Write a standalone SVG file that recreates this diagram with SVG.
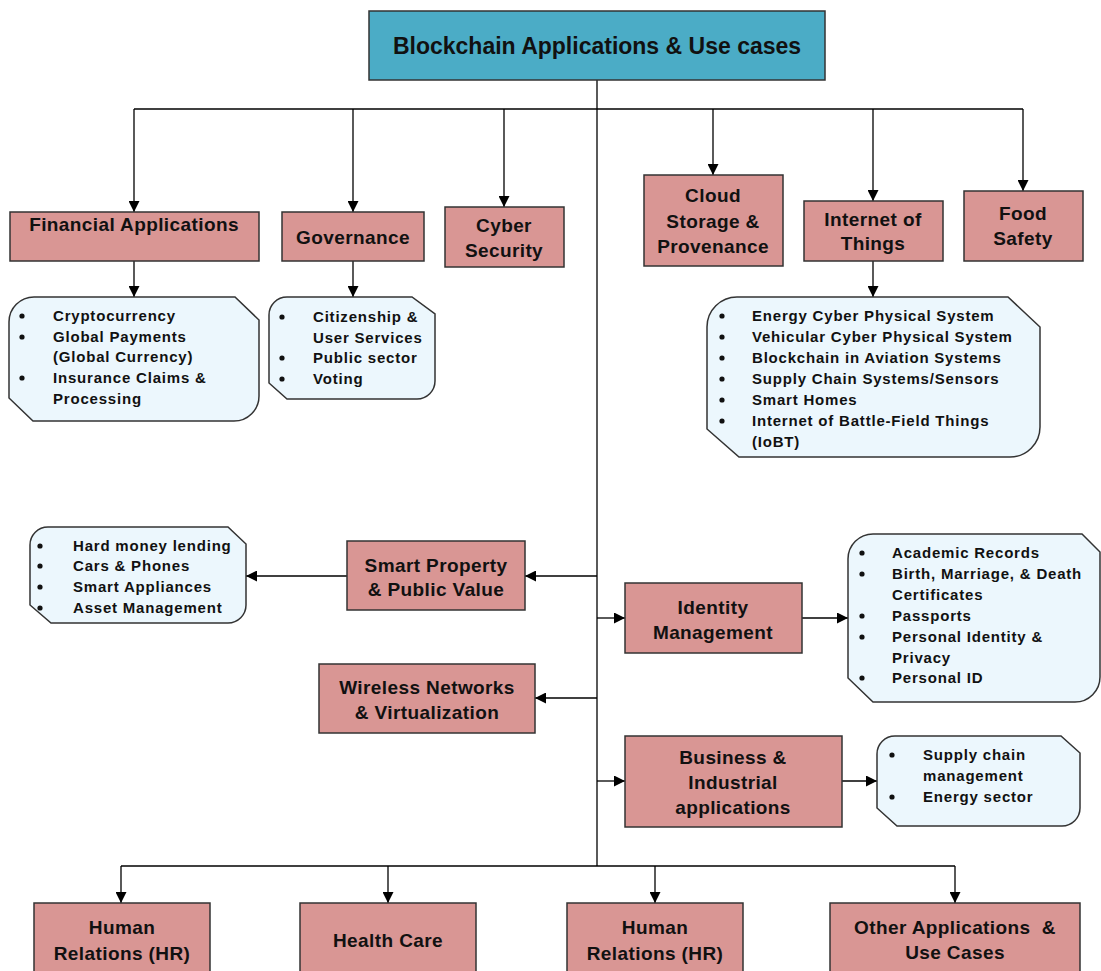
<svg xmlns="http://www.w3.org/2000/svg" width="1101" height="971" viewBox="0 0 1101 971">
<style>
.node{fill:#D99694;stroke:#333;stroke-width:1.5}
.title{fill:#4BACC6;stroke:#333;stroke-width:1.5}
.list{fill:#ECF7FD;stroke:#333;stroke-width:1.5}
.lbl{font-family:"Liberation Sans",Arial,sans-serif;font-weight:bold;font-size:19px;letter-spacing:0.4px;fill:#111;text-anchor:middle}
.ttl{font-family:"Liberation Sans",Arial,sans-serif;font-weight:bold;font-size:23px;fill:#111;text-anchor:middle}
.itm{font-family:"Liberation Sans",Arial,sans-serif;font-weight:bold;font-size:15px;letter-spacing:0.8px;fill:#111}
.dot{fill:#111}
.con{fill:none;stroke:#000;stroke-width:1.3}
.arr{marker-end:url(#ah)}
</style>
<defs>
<marker id="ah" markerUnits="userSpaceOnUse" markerWidth="11" markerHeight="11" refX="11" refY="5.5" orient="auto">
<path d="M0,0 L11,5.5 L0,11 z" fill="#000"/>
</marker>
</defs>

<g id="connectors">
<path class="con" d="M597,80 V866"/>
<path class="con" d="M134,109 H1023"/>
<path class="con arr" d="M134,109 V212"/>
<path class="con arr" d="M353,109 V212"/>
<path class="con arr" d="M504,109 V207"/>
<path class="con arr" d="M713,109 V175"/>
<path class="con arr" d="M873,109 V201"/>
<path class="con arr" d="M1023,109 V191"/>
<path class="con arr" d="M134,261 V297"/>
<path class="con arr" d="M353,261 V297"/>
<path class="con arr" d="M873,261 V297"/>
<path class="con arr" d="M597,576 H525"/>
<path class="con arr" d="M347,576 H246"/>
<path class="con arr" d="M597,698 H535"/>
<path class="con arr" d="M597,618 H625"/>
<path class="con arr" d="M802,618 H848"/>
<path class="con arr" d="M597,781 H625"/>
<path class="con arr" d="M842,781 H877"/>
<path class="con" d="M121,866 H955"/>
<path class="con arr" d="M121,866 V903"/>
<path class="con arr" d="M388,866 V903"/>
<path class="con arr" d="M655,866 V903"/>
<path class="con arr" d="M955,866 V903"/>
</g>

<g id="title">
<rect class="title" x="369" y="11" width="456" height="69"/>
<text class="ttl" x="597" y="54">Blockchain Applications &amp; Use cases</text>
</g>

<g id="financial">
<rect class="node" x="10" y="212" width="249" height="49"/>
<text class="lbl" x="134" y="231">Financial Applications</text>
</g>
<g id="governance">
<rect class="node" x="282" y="212" width="142" height="49"/>
<text class="lbl" x="353" y="244">Governance</text>
</g>
<g id="cyber">
<rect class="node" x="445" y="207" width="119" height="60"/>
<text class="lbl" x="504" y="232">Cyber</text>
<text class="lbl" x="504" y="257">Security</text>
</g>
<g id="cloud">
<rect class="node" x="644" y="175" width="139" height="91"/>
<text class="lbl" x="713" y="202">Cloud</text>
<text class="lbl" x="713" y="228">Storage &amp;</text>
<text class="lbl" x="713" y="253">Provenance</text>
</g>
<g id="iot">
<rect class="node" x="804" y="201" width="139" height="60"/>
<text class="lbl" x="873" y="226">Internet of</text>
<text class="lbl" x="873" y="250">Things</text>
</g>
<g id="food">
<rect class="node" x="964" y="191" width="119" height="70"/>
<text class="lbl" x="1023" y="220">Food</text>
<text class="lbl" x="1023" y="245">Safety</text>
</g>

<g id="financial-list">
<path class="list" d="M9,322 A25,25 0 0 1 34,297 L235,297 L259,320 L259,396 A25,25 0 0 1 234,421 L33,421 L9,398 Z"/>
<circle class="dot" cx="22" cy="316" r="2.6"/>
<circle class="dot" cx="22" cy="337" r="2.6"/>
<circle class="dot" cx="22" cy="378" r="2.6"/>
<text class="itm" x="53" y="321">Cryptocurrency</text>
<text class="itm" x="53" y="342">Global Payments</text>
<text class="itm" x="53" y="362">(Global Currency)</text>
<text class="itm" x="53" y="383">Insurance Claims &amp;</text>
<text class="itm" x="53" y="404">Processing</text>
</g>

<g id="governance-list">
<path class="list" d="M269,315 A18,18 0 0 1 287,297 L412,297 L435,314 L435,381 A18,18 0 0 1 417,399 L287,399 L269,383 Z"/>
<circle class="dot" cx="282" cy="317" r="2.6"/>
<circle class="dot" cx="282" cy="358" r="2.6"/>
<circle class="dot" cx="282" cy="379" r="2.6"/>
<text class="itm" x="313" y="322">Citizenship &amp;</text>
<text class="itm" x="313" y="343">User Services</text>
<text class="itm" x="313" y="363">Public sector</text>
<text class="itm" x="313" y="384">Voting</text>
</g>

<g id="iot-list">
<path class="list" d="M707,327 A30,30 0 0 1 737,297 L1008,297 L1040,327 L1040,427 A30,30 0 0 1 1010,457 L739,457 L707,429 Z"/>
<circle class="dot" cx="722" cy="316" r="2.6"/>
<circle class="dot" cx="722" cy="337" r="2.6"/>
<circle class="dot" cx="722" cy="358" r="2.6"/>
<circle class="dot" cx="722" cy="379" r="2.6"/>
<circle class="dot" cx="722" cy="400" r="2.6"/>
<circle class="dot" cx="722" cy="421" r="2.6"/>
<text class="itm" x="752" y="321">Energy Cyber Physical System</text>
<text class="itm" x="752" y="342">Vehicular Cyber Physical System</text>
<text class="itm" x="752" y="363">Blockchain in Aviation Systems</text>
<text class="itm" x="752" y="384">Supply Chain Systems/Sensors</text>
<text class="itm" x="752" y="405">Smart Homes</text>
<text class="itm" x="752" y="426">Internet of Battle-Field Things</text>
<text class="itm" x="752" y="447">(IoBT)</text>
</g>

<g id="smart-property">
<rect class="node" x="347" y="541" width="178" height="69"/>
<text class="lbl" x="436" y="572">Smart Property</text>
<text class="lbl" x="436" y="596">&amp; Public Value</text>
</g>
<g id="smart-list">
<path class="list" d="M30,545 A18,18 0 0 1 48,527 L228,527 L246,544 L246,605 A18,18 0 0 1 228,623 L51,623 L30,605 Z"/>
<circle class="dot" cx="40" cy="546" r="2.6"/>
<circle class="dot" cx="40" cy="566" r="2.6"/>
<circle class="dot" cx="40" cy="587" r="2.6"/>
<circle class="dot" cx="40" cy="608" r="2.6"/>
<text class="itm" x="73" y="551">Hard money lending</text>
<text class="itm" x="73" y="571">Cars &amp; Phones</text>
<text class="itm" x="73" y="592">Smart Appliances</text>
<text class="itm" x="73" y="613">Asset Management</text>
</g>

<g id="wireless">
<rect class="node" x="319" y="664" width="216" height="69"/>
<text class="lbl" x="427" y="694">Wireless Networks</text>
<text class="lbl" x="427" y="719">&amp; Virtualization</text>
</g>

<g id="identity">
<rect class="node" x="625" y="583" width="177" height="70"/>
<text class="lbl" x="713" y="614">Identity</text>
<text class="lbl" x="713" y="639">Management</text>
</g>
<g id="identity-list">
<path class="list" d="M848,559 A25,25 0 0 1 873,534 L1082,534 L1100,552 L1100,677 A25,25 0 0 1 1075,702 L873,702 L848,678 Z"/>
<circle class="dot" cx="862" cy="553" r="2.6"/>
<circle class="dot" cx="862" cy="574" r="2.6"/>
<circle class="dot" cx="862" cy="616" r="2.6"/>
<circle class="dot" cx="862" cy="637" r="2.6"/>
<circle class="dot" cx="862" cy="678" r="2.6"/>
<text class="itm" x="892" y="558">Academic Records</text>
<text class="itm" x="892" y="579">Birth, Marriage, &amp; Death</text>
<text class="itm" x="892" y="600">Certificates</text>
<text class="itm" x="892" y="621">Passports</text>
<text class="itm" x="892" y="642">Personal Identity &amp;</text>
<text class="itm" x="892" y="663">Privacy</text>
<text class="itm" x="892" y="683">Personal ID</text>
</g>

<g id="business">
<rect class="node" x="625" y="736" width="217" height="91"/>
<text class="lbl" x="733" y="764">Business &amp;</text>
<text class="lbl" x="733" y="789">Industrial</text>
<text class="lbl" x="733" y="814">applications</text>
</g>
<g id="business-list">
<path class="list" d="M877,754 A18,18 0 0 1 895,736 L1061,736 L1080,753 L1080,808 A18,18 0 0 1 1062,826 L897,826 L877,808 Z"/>
<circle class="dot" cx="892" cy="755" r="2.6"/>
<circle class="dot" cx="892" cy="797" r="2.6"/>
<text class="itm" x="923" y="760">Supply chain</text>
<text class="itm" x="923" y="781">management</text>
<text class="itm" x="923" y="802">Energy sector</text>
</g>

<g id="hr1">
<rect class="node" x="34" y="903" width="176" height="72"/>
<text class="lbl" x="122" y="934">Human</text>
<text class="lbl" x="122" y="960">Relations (HR)</text>
</g>
<g id="health">
<rect class="node" x="300" y="903" width="176" height="72"/>
<text class="lbl" x="388" y="947">Health Care</text>
</g>
<g id="hr2">
<rect class="node" x="567" y="903" width="176" height="72"/>
<text class="lbl" x="655" y="934">Human</text>
<text class="lbl" x="655" y="960">Relations (HR)</text>
</g>
<g id="other">
<rect class="node" x="830" y="903" width="250" height="72"/>
<text class="lbl" x="955" y="934" style="white-space:pre">Other Applications  &amp;</text>
<text class="lbl" x="955" y="959">Use Cases</text>
</g>
</svg>
